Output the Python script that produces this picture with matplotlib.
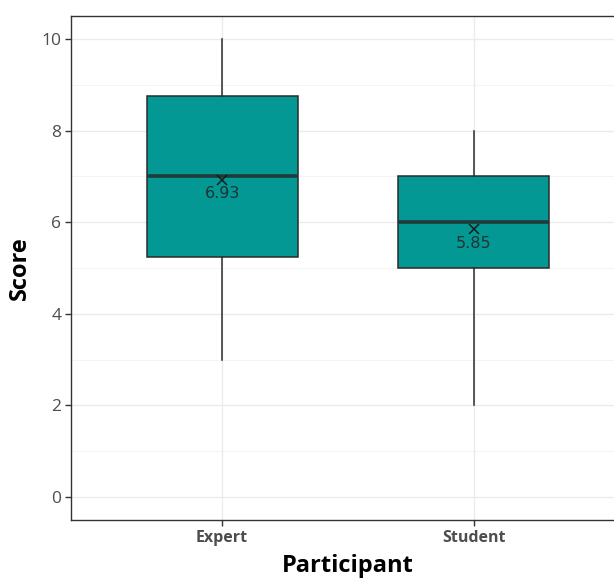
import matplotlib
matplotlib.use("Agg")
import matplotlib.pyplot as plt
from matplotlib.ticker import MultipleLocator

categories = ["Expert", "Student"]
whislo = [3, 2]
q1 = [5.25, 5]
med = [7, 6]
q3 = [8.75, 7]
whishi = [10, 8]
means = [6.93, 5.85]
yticks = [0, 2, 4, 6, 8, 10]

fig = plt.figure(figsize=(6.14, 5.79), dpi=100)
W, H = 614, 579
ax = fig.add_axes([71 / W, (H - 520) / H, 554 / W, 504 / H])

stats = []
for i, c in enumerate(categories):
    stats.append(dict(label=c, whislo=whislo[i], q1=q1[i], med=med[i],
                      q3=q3[i], whishi=whishi[i], fliers=[]))
pos = list(range(1, len(categories) + 1))
ax.bxp(stats, positions=pos, widths=0.6, showcaps=False, patch_artist=True,
       boxprops=dict(facecolor="#039894", edgecolor="#2b2b2b", linewidth=1.1),
       medianprops=dict(color="#1f3a3a", linewidth=2.6),
       whiskerprops=dict(color="#2b2b2b", linewidth=1.1), zorder=3)

for p, m in zip(pos, means):
    ax.plot(p, m, marker="x", color="#1a1a1a", markersize=7, mew=1.1, zorder=5)
    ax.text(p, m - 0.15, f"{m:.2f}", ha="center", va="top", fontsize=11.5,
            color="#1e3333", zorder=6, family="DejaVu Sans")

ax.set_xlim(0.4, 2.6)
ax.set_ylim(-0.5, 10.5)
ax.set_xticks(pos)
ax.set_xticklabels(categories, fontsize=11.5, fontweight="bold", color="#4d4d4d", family="Open Sans")
ax.set_yticks(yticks)
ax.set_yticklabels([str(t) for t in yticks], fontsize=12.5, color="#4d4d4d", family="Open Sans")
ax.yaxis.set_minor_locator(MultipleLocator(1))
ax.tick_params(axis="y", which="minor", length=0)
ax.tick_params(axis="both", which="major", length=4, color="#333333", width=1, pad=3)
ax.grid(True, which="major", color="#ebebeb", linewidth=1, zorder=0)
ax.grid(True, which="minor", axis="y", color="#f2f2f2", linewidth=0.6, zorder=0)
ax.set_axisbelow(True)
for s in ax.spines.values():
    s.set_color("#333333")
    s.set_linewidth(1)

ax.set_xlabel("Participant", fontsize=17, fontweight="bold", color="black", family="Open Sans", labelpad=6)
ax.set_ylabel("Score", fontsize=17, fontweight="bold", color="black", family="Open Sans", labelpad=7)

fig.savefig("out.png", dpi=100)
